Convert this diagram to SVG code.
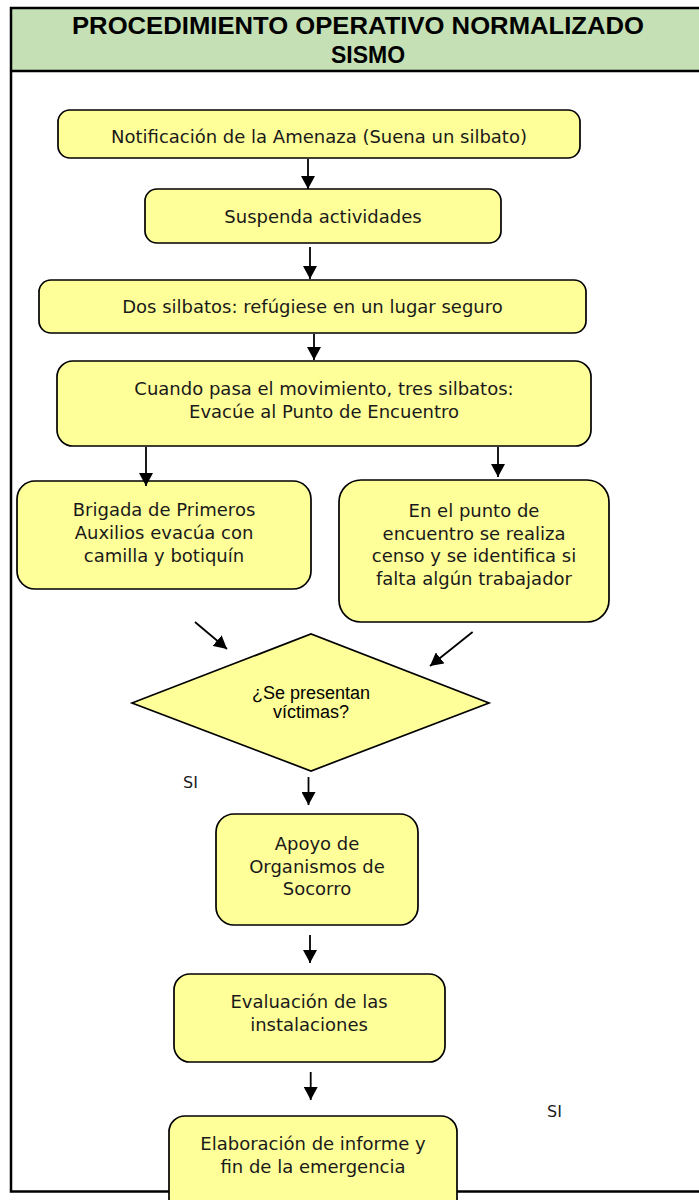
<svg xmlns="http://www.w3.org/2000/svg" width="699" height="1200" viewBox="0 0 699 1200">
<style>
.box{fill:#FFFF99;stroke:#000;stroke-width:1.7}
.t{font-family:"DejaVu Sans",sans-serif;font-size:18px;fill:#1a1a1a;text-anchor:middle}
.d{font-family:"Liberation Sans",Arial,sans-serif;font-size:18px;fill:#000;text-anchor:middle}
.si{font-family:"DejaVu Sans",sans-serif;font-size:16px;fill:#1a1a1a}
.title{font-family:"Liberation Sans",Arial,sans-serif;font-size:23px;font-weight:bold;fill:#000}
.c{stroke:#000;stroke-width:1.8;fill:none;marker-end:url(#ah)}
</style>
<defs>
<marker id="ah" markerWidth="14" markerHeight="14" refX="13" refY="7" orient="auto" markerUnits="userSpaceOnUse"><path d="M0,0 L13,7 L0,14 z" fill="#000"/></marker>
</defs>
<rect width="699" height="1200" fill="#fff"/>
<g id="frame">
<rect x="11" y="8" width="720" height="63" fill="#C5E0B4"/>
<rect x="11" y="8" width="720" height="1183.5" fill="none" stroke="#000" stroke-width="2.5"/>
<line x1="11" y1="71" x2="699" y2="71" stroke="#000" stroke-width="2.5"/>
<text class="title" x="72" y="34" textLength="572" lengthAdjust="spacingAndGlyphs">PROCEDIMIENTO OPERATIVO NORMALIZADO</text>
<text class="title" x="368" y="63" text-anchor="middle">SISMO</text>
</g>
<g id="n1"><rect class="box" x="58" y="110" width="522" height="48" rx="12"/><text class="t" x="319" y="142.5">Notificación de la Amenaza (Suena un silbato)</text></g>
<g id="n2"><rect class="box" x="145" y="189" width="356" height="54" rx="12"/><text class="t" x="323" y="223">Suspenda actividades</text></g>
<g id="n3"><rect class="box" x="39" y="280" width="547" height="53" rx="12"/><text class="t" x="312.5" y="313">Dos silbatos: refúgiese en un lugar seguro</text></g>
<g id="n4"><rect class="box" x="57" y="361" width="534" height="85" rx="16"/><text class="t" x="324" y="395">Cuando pasa el movimiento, tres silbatos:</text><text class="t" x="324" y="418">Evacúe al Punto de Encuentro</text></g>
<g id="n5"><rect class="box" x="17" y="481" width="294" height="108" rx="18"/><text class="t" x="164" y="516">Brigada de Primeros</text><text class="t" x="164" y="539">Auxilios evacúa con</text><text class="t" x="164" y="562">camilla y botiquín</text></g>
<g id="n6"><rect class="box" x="339" y="480" width="270" height="142" rx="22"/><text class="t" x="474" y="517">En el punto de</text><text class="t" x="474" y="540">encuentro se realiza</text><text class="t" x="474" y="562">censo y se identifica si</text><text class="t" x="474" y="585">falta algún trabajador</text></g>
<g id="n7"><polygon class="box" points="132,703 311,634 489,703 311,771"/><text class="d" x="311" y="699">¿Se presentan</text><text class="d" x="311" y="718">víctimas?</text></g>
<g id="n8"><rect class="box" x="216" y="814" width="202" height="111" rx="18"/><text class="t" x="317" y="850">Apoyo de</text><text class="t" x="317" y="873">Organismos de</text><text class="t" x="317" y="895">Socorro</text></g>
<g id="n9"><rect class="box" x="174" y="974" width="271" height="88" rx="16"/><text class="t" x="309" y="1008">Evaluación de las</text><text class="t" x="309" y="1031">instalaciones</text></g>
<g id="n10"><rect class="box" x="169" y="1116" width="288" height="100" rx="16"/><text class="t" x="313" y="1150">Elaboración de informe y</text><text class="t" x="313" y="1173">fin de la emergencia</text></g>
<g id="labels"><text class="si" x="183" y="788">SI</text><text class="si" x="547" y="1117">SI</text></g>
<g id="connectors">
<line class="c" x1="308" y1="159" x2="308" y2="189"/>
<line class="c" x1="310" y1="247" x2="310" y2="279"/>
<line class="c" x1="314" y1="334" x2="314" y2="360"/>
<line class="c" x1="146" y1="447" x2="146" y2="486"/>
<line class="c" x1="498" y1="447" x2="498" y2="477"/>
<line class="c" x1="195" y1="622" x2="227" y2="649"/>
<line class="c" x1="472.6" y1="632" x2="430" y2="666"/>
<line class="c" x1="308.5" y1="777" x2="308.5" y2="805"/>
<line class="c" x1="310" y1="935" x2="310" y2="963"/>
<line class="c" x1="310.7" y1="1072" x2="310.7" y2="1100"/>
</g>
</svg>
